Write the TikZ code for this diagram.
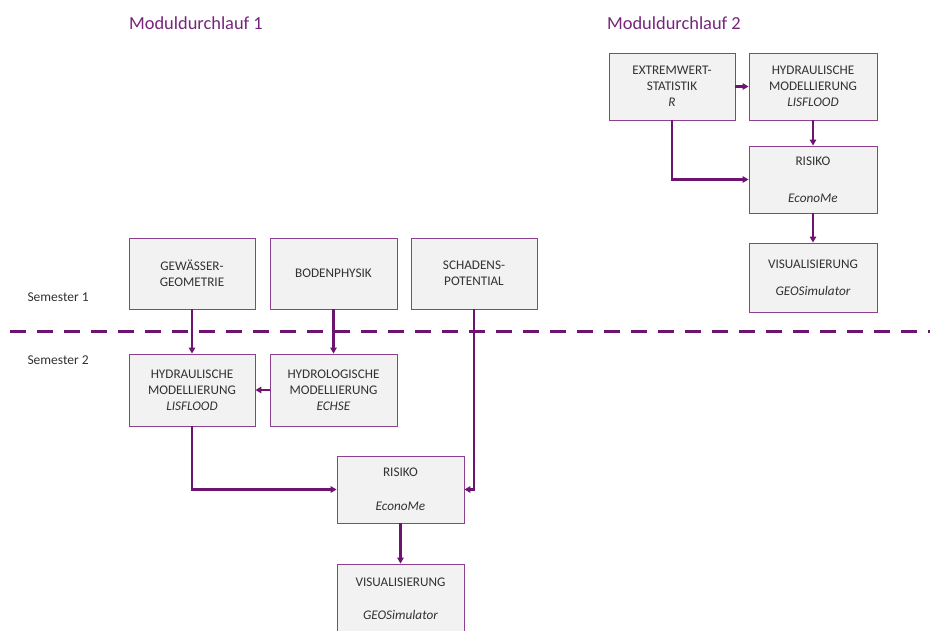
\documentclass[tikz,border=0pt]{standalone}
\usepackage{fontspec}
\setmainfont{Carlito}
\usetikzlibrary{arrows.meta,shadows}
\definecolor{linepurple}{RGB}{108,20,112}
\definecolor{titlepurple}{RGB}{118,36,124}
\definecolor{boxborder}{RGB}{140,64,144}
\definecolor{boxfill}{RGB}{242,242,242}
\definecolor{boxtext}{RGB}{50,50,50}
\tikzset{
  modbox/.style={draw=boxborder, line width=0.9pt, fill=boxfill, minimum width=126pt,
    minimum height=67pt, inner sep=0pt, align=center, text=boxtext,
    font=\fontsize{13.2}{16}\selectfont,
    drop shadow={shadow xshift=1.2pt, shadow yshift=-1.2pt, opacity=0.35, fill=black!60}},
  conn/.style={draw=linepurple, line width=2.2pt, -{Triangle[length=6pt,width=6.5pt]}},
  titletext/.style={text=titlepurple, font=\fontsize{18.4}{22}\selectfont},
  semtext/.style={text=boxtext, font=\fontsize{13.5}{16}\selectfont, anchor=base west},
}
\begin{document}
\begin{tikzpicture}[x=1pt,y=-1pt]
\useasboundingbox (0,0) rectangle (930,631);
% titles
\node[titletext] (t1) at (196,23) {Moduldurchlauf 1};
\node[titletext] (t2) at (674,23) {Moduldurchlauf 2};
% semester labels
\node[semtext] (s1) at (24,302) {Semester 1};
\node[semtext] (s2) at (24,364) {Semester 2};
% dashed separator
\draw[linepurple, line width=3pt, dash pattern=on 16pt off 11pt] (10,332) -- (930,332);
% Moduldurchlauf 2
\node[modbox] (ext) at (672,86.5) {EXTREMWERT-\\STATISTIK\\\textit{R}};
\node[modbox, minimum width=128pt] (hyd2) at (813,86.5) {HYDRAULISCHE\\MODELLIERUNG\\\textit{LISFLOOD}};
\node[modbox, minimum width=128pt] (ris2) at (813,179.5) {RISIKO\\[21pt]\textit{EconoMe}};
\node[modbox, minimum width=128pt, minimum height=69pt] (vis2) at (813,277.5) {VISUALISIERUNG\\[11pt]\textit{GEOSimulator}};
% Moduldurchlauf 1
\node[modbox, minimum height=71pt] (gew) at (192,273.5) {GEWÄSSER-\\GEOMETRIE};
\node[modbox, minimum width=127pt, minimum height=71pt] (bod) at (333.5,273.5) {BODENPHYSIK};
\node[modbox, minimum height=71pt] (sch) at (474,273.5) {SCHADENS-\\POTENTIAL};
\node[modbox, minimum height=72pt] (hyd1) at (192,390) {HYDRAULISCHE\\MODELLIERUNG\\\textit{LISFLOOD}};
\node[modbox, minimum width=127pt, minimum height=72pt] (hydl) at (333.5,390) {HYDROLOGISCHE\\MODELLIERUNG\\\textit{ECHSE}};
\node[modbox, minimum width=127pt] (ris1) at (400.5,489.5) {RISIKO\\[18pt]\textit{EconoMe}};
\node[modbox, minimum width=127pt, minimum height=69pt] (vis1) at (400.5,598.5) {VISUALISIERUNG\\[17pt]\textit{GEOSimulator}};
% connectors, Moduldurchlauf 2
\draw[conn] (ext) -- (hyd2);
\draw[conn] (hyd2) -- (ris2);
\draw[conn] (ext.south) |- (ris2.west);
\draw[conn] (ris2) -- (vis2);
% connectors, Moduldurchlauf 1
\draw[conn] (gew) -- (hyd1);
\draw[conn] (bod) -- (hydl);
\draw[conn] (hydl) -- (hyd1);
\draw[conn] (hyd1.south) |- (ris1.west);
\draw[conn] (sch.south) |- (ris1.east);
\draw[conn] (ris1) -- (vis1);
\end{tikzpicture}
\end{document}
